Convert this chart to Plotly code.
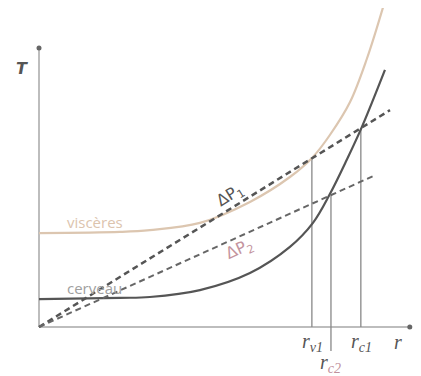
import plotly.graph_objects as go

# Data (conceptual units: r horizontal, T vertical)
r_visc = [0, 2.25, 3.08, 4.47, 5.86, 6.97, 7.61, 8.08, 8.64, 9.11, 9.56]
T_visc = [3.13, 3.17, 3.23, 3.47, 4.17, 5.0, 5.67, 6.4, 7.5, 8.95, 10.67]

r_cerv = [0, 2.25, 3.08, 4.47, 5.86, 6.97, 7.61, 8.08, 8.56, 8.97, 9.61]
T_cerv = [0.93, 0.97, 1.0, 1.23, 1.8, 2.67, 3.47, 4.43, 5.6, 6.67, 8.57]

r_dp1 = [0, 9.75]
T_dp1 = [0, 7.23]
r_dp2 = [0, 9.28]
T_dp2 = [0, 5.03]

r_v1, r_c1, r_c2 = 7.58, 8.94, 8.11
r_axis_max = 10.3
T_axis_max = 9.3

slope1 = T_dp1[1] / r_dp1[1]
slope2 = T_dp2[1] / r_dp2[1]

fig = go.Figure()

# axes
fig.add_trace(go.Scatter(x=[0, r_axis_max], y=[0, 0], mode="lines",
                         line=dict(color="#bdbdbd", width=2), hoverinfo="skip"))
fig.add_trace(go.Scatter(x=[0, 0], y=[0, T_axis_max], mode="lines",
                         line=dict(color="#bdbdbd", width=2), hoverinfo="skip"))
fig.add_trace(go.Scatter(x=[r_axis_max, 0], y=[0, T_axis_max], mode="markers",
                         marker=dict(color="#666", size=5), hoverinfo="skip"))

# vertical guide lines
fig.add_trace(go.Scatter(x=[r_v1, r_v1], y=[0, slope1 * r_v1], mode="lines",
                         line=dict(color="#888", width=1.3), hoverinfo="skip"))
fig.add_trace(go.Scatter(x=[r_c1, r_c1], y=[0, slope1 * r_c1], mode="lines",
                         line=dict(color="#888", width=1.3), hoverinfo="skip"))
fig.add_trace(go.Scatter(x=[r_c2, r_c2], y=[-0.8, slope2 * r_c2], mode="lines",
                         line=dict(color="#888", width=1.3), hoverinfo="skip"))

# curves
fig.add_trace(go.Scatter(x=r_visc, y=T_visc, mode="lines", line_shape="spline",
                         line=dict(color="#dcc6b0", width=2.2), hoverinfo="skip"))
fig.add_trace(go.Scatter(x=r_cerv, y=T_cerv, mode="lines", line_shape="spline",
                         line=dict(color="#555555", width=2.2), hoverinfo="skip"))

# pressure lines
fig.add_trace(go.Scatter(x=r_dp1, y=T_dp1, mode="lines",
                         line=dict(color="#555555", width=2.5, dash="6px,4px"), hoverinfo="skip"))
fig.add_trace(go.Scatter(x=r_dp2, y=T_dp2, mode="lines",
                         line=dict(color="#666666", width=2, dash="6px,4px"), hoverinfo="skip"))

ann = [
    dict(x=1.55, y=3.5, text="viscères", font=dict(family="Open Sans", size=15, color="#dcc4ae")),
    dict(x=1.55, y=1.3, text="cerveau", font=dict(family="Open Sans", size=15, color="#a0a0a0")),
    dict(x=5.31, y=4.4, text="ΔP<sub>1</sub>", textangle=-32,
         font=dict(family="DejaVu Sans", size=16, color="#555")),
    dict(x=5.58, y=2.57, text="ΔP<sub>2</sub>", textangle=-24,
         font=dict(family="DejaVu Sans", size=16, color="#c4949e")),
    dict(x=-0.47, y=8.63, text="<b><i>T</i></b>", font=dict(family="DejaVu Sans", size=16, color="#555")),
    dict(x=9.97, y=-0.5, text="<i>r</i>", font=dict(family="Liberation Serif", size=20, color="#555")),
    dict(x=7.61, y=-0.5, text="<i>r<sub>v1</sub></i>", font=dict(family="Liberation Serif", size=20, color="#555")),
    dict(x=8.97, y=-0.5, text="<i>r<sub>c1</sub></i>", font=dict(family="Liberation Serif", size=20, color="#555")),
    dict(x=8.11, y=-1.22, text="<i>r<sub><span style='color:#c0909c'>c2</span></sub></i>",
         font=dict(family="Liberation Serif", size=20, color="#555")),
]
for a in ann:
    a.update(showarrow=False, xref="x", yref="y")

# page body has an 8px margin: figure occupies window pixels 8..421 x 8..376
fig.update_layout(
    width=413, height=368,
    margin=dict(l=0, r=0, t=0, b=0, autoexpand=False),
    paper_bgcolor="white", plot_bgcolor="white",
    showlegend=False,
    xaxis=dict(range=[-31 / 36, 382 / 36], visible=False, fixedrange=True),
    yaxis=dict(range=[-49 / 30, 319 / 30], visible=False, fixedrange=True),
    annotations=ann,
)

fig.write_html("out.html")
